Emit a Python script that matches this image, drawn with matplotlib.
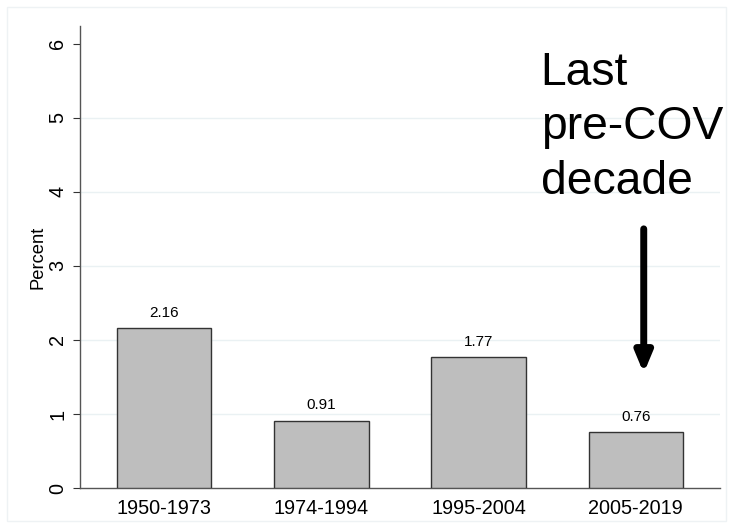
import matplotlib.pyplot as plt
from matplotlib.patches import Rectangle

periods = ['1950-1973', '1974-1994', '1995-2004', '2005-2019']
growth = [2.16, 0.91, 1.77, 0.76]
label_text = ['2.16', '0.91', '1.77', '0.76']
y_ticks = [0, 1, 2, 3, 4, 5, 6]

plt.rcParams['font.family'] = ['Liberation Sans', 'DejaVu Sans']

fig = plt.figure(figsize=(7.33, 5.28), dpi=100)
# faint outer frame like Stata's graph region
fig.patches.append(Rectangle((7 / 733, 7 / 528), 1 - 14 / 733, 1 - 14 / 528,
                             transform=fig.transFigure, fill=False,
                             edgecolor='#eef2f4', linewidth=1))
ax = fig.add_axes([80 / 733, 40 / 528, 640 / 733, 462 / 528])

xs = list(range(len(periods)))
ax.bar(xs, growth, width=0.6, color='#bebebe', edgecolor='#333333', linewidth=1, zorder=3)
for x, v, t in zip(xs, growth, label_text):
    ax.text(x, v + 0.11, t, ha='center', va='bottom', fontsize=11)

for y in y_ticks[1:-1]:
    ax.axhline(y, color='#eaf1f3', linewidth=1, zorder=1)

ax.set_xlim(-0.535, 3.535)
ax.set_ylim(0, 6.24)
ax.set_xticks(xs)
ax.set_xticklabels(periods, fontsize=14.3)
ax.set_yticks(y_ticks)
ax.set_yticklabels([str(t) for t in y_ticks], fontsize=14.3, rotation=90, va='center')
ax.tick_params(axis='x', length=0, pad=8)
ax.tick_params(axis='y', length=5, color='#333333', pad=4)
ax.set_ylabel('Percent', fontsize=13.2, labelpad=1.5)

for s in ['top', 'right']:
    ax.spines[s].set_visible(False)
for s in ['left', 'bottom']:
    ax.spines[s].set_color('#555555')
    ax.spines[s].set_linewidth(1)

ax.text(2.395, 5.9, 'Last\npre-COV\ndecade', fontsize=33.3, ha='left', va='top',
        linespacing=1.3, clip_on=False)
ax.annotate('', xy=(3.05, 1.55), xytext=(3.05, 3.5),
            arrowprops=dict(arrowstyle='-|>,head_width=0.5,head_length=1.2',
                            color='black', linewidth=5, shrinkA=0, shrinkB=0), zorder=4)

fig.savefig('out.png', dpi=100)
